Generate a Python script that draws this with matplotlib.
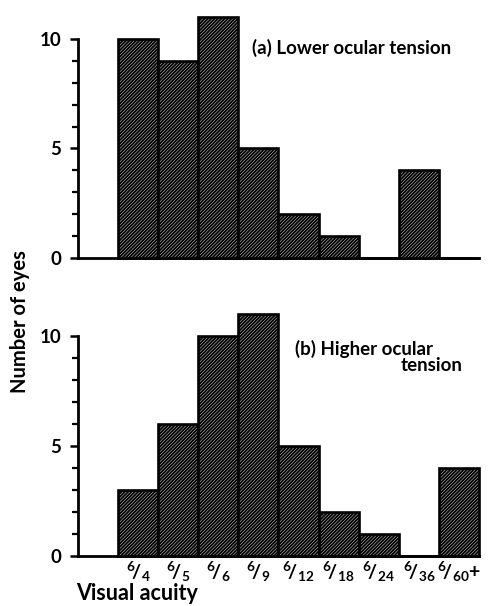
import numpy as np
import matplotlib.pyplot as plt
from matplotlib.ticker import FixedLocator

# visual acuity categories (Snellen fractions)
acuity = ["6/4", "6/5", "6/6", "6/9", "6/12", "6/18", "6/24", "6/36", "6/60+"]
tick_labels = [r"$^{6}\!/_{4}$", r"$^{6}\!/_{5}$", r"$^{6}\!/_{6}$", r"$^{6}\!/_{9}$",
               r"$^{6}\!/_{12}$", r"$^{6}\!/_{18}$", r"$^{6}\!/_{24}$", r"$^{6}\!/_{36}$",
               r"$^{6}\!/_{60}$+"]
lower_tension = [10, 9, 11, 5, 2, 1, 0, 4, 0]
higher_tension = [3, 6, 10, 11, 5, 2, 1, 0, 4]

plt.rcParams["font.family"] = ["Lato", "DejaVu Sans"]
plt.rcParams["font.weight"] = "bold"
plt.rcParams["hatch.linewidth"] = 1.4
plt.rcParams["mathtext.fontset"] = "custom"
plt.rcParams["mathtext.rm"] = "Lato:bold"
plt.rcParams["mathtext.it"] = "Lato:bold"

fig = plt.figure(figsize=(4.92, 6.06), dpi=100)
ax_a = fig.add_axes([0.1585, 0.5743, 0.815, 0.4157])
ax_b = fig.add_axes([0.1585, 0.0825, 0.815, 0.4175])

x = np.arange(len(acuity))

def style(ax, counts):
    ax.bar(x, counts, width=1.0, color="white", edgecolor="black",
           hatch="//////////", linewidth=1.9, clip_on=False, zorder=3)
    ax.set_xlim(-1.5, 8.5)
    ax.set_ylim(0, 11.5)
    for s in ["top", "right"]:
        ax.spines[s].set_visible(False)
    ax.spines["left"].set_bounds(0, 10)
    ax.spines["left"].set_linewidth(2)
    ax.spines["bottom"].set_linewidth(2)
    ax.set_yticks([0, 5, 10])
    ax.yaxis.set_minor_locator(FixedLocator([1, 2, 3, 4, 6, 7, 8, 9]))
    ax.tick_params(axis="y", which="major", length=6, width=1.8, labelsize=13.5, pad=6)
    ax.tick_params(axis="y", which="minor", length=4, width=1.6)

style(ax_a, lower_tension)
ax_a.set_xticks([])
ax_a.text(0.435, 0.835, "(a) Lower ocular tension", transform=ax_a.transAxes,
          fontsize=13.5, ha="left", va="center")

style(ax_b, higher_tension)
ax_b.set_xticks(x)
ax_b.set_xticklabels(tick_labels, fontsize=14)
ax_b.tick_params(axis="x", length=0, pad=3)
ax_b.text(0.54, 0.82, "(b) Higher ocular", transform=ax_b.transAxes,
          fontsize=13.5, ha="left", va="center")
ax_b.text(0.96, 0.752, "tension", transform=ax_b.transAxes,
          fontsize=13.5, ha="right", va="center")

fig.text(0.04, 0.47, "Number of eyes", rotation=90, ha="center", va="center", fontsize=14.5)
fig.text(0.155, 0.02, "Visual acuity", ha="left", va="center", fontsize=15.5)

fig.savefig("out.png", dpi=100)
